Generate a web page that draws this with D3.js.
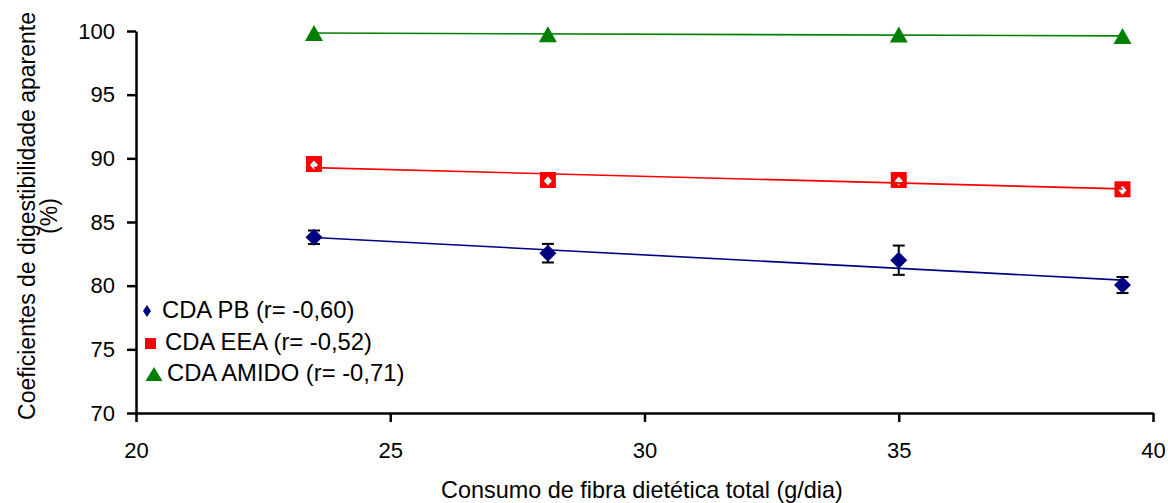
<!DOCTYPE html>
<html>
<head>
<meta charset="utf-8">
<script src="https://cdn.jsdelivr.net/npm/d3@7"></script>
<style>
  body { margin: 0; background: #fff; }
  svg { font-family: "Liberation Sans", Arial, sans-serif; }
</style>
</head>
<body>
<div id="drawing_region"></div>
<script>
// consumo de fibra (g/dia)
var fibra = [23.5, 28.1, 35.0, 39.4];
var cdaPB = [83.8, 82.55, 82.0, 80.05];
var errPB = [0.53, 0.73, 1.15, 0.63];
var cdaEEA = [89.55, 88.3, 88.3, 87.57];
var cdaAmido = [99.85, 99.75, 99.72, 99.6];
var xTicks = [20, 25, 30, 35, 40];
var yTicks = [70, 75, 80, 85, 90, 95, 100];
var legendLabels = ["CDA PB (r= -0,60)", "CDA EEA (r= -0,52)", "CDA AMIDO (r= -0,71)"];

var width = 1168;
var height = 503;
var margin = { top: 31, right: 15, bottom: 90, left: 136 };
var inner_w = 1153 - margin.left;
var inner_h = 413 - margin.top;

var svg = d3.select("#drawing_region")
    .append("svg")
    .attr("width", width)
    .attr("height", height);

var g = svg.append("g")
    .attr("transform", "translate(" + margin.left + "," + margin.top + ")");

var xScale = d3.scaleLinear().domain([20, 40]).range([0, inner_w]);
var yScale = d3.scaleLinear().domain([70, 100]).range([inner_h, 0]);

// linha de tendência (mínimos quadrados, como no Excel)
function trend(ys) {
    var mx = d3.mean(fibra), my = d3.mean(ys);
    var sxy = d3.sum(fibra, (x, i) => (x - mx) * (ys[i] - my));
    var sxx = d3.sum(fibra, x => (x - mx) * (x - mx));
    var b = sxy / sxx;
    var x0 = fibra[0], x1 = fibra[fibra.length - 1];
    return [[x0, my + b * (x0 - mx)], [x1, my + b * (x1 - mx)]];
}

var line = d3.line().x(d => xScale(d[0])).y(d => yScale(d[1]));

// eixos
var xAxis = g.append("g")
    .attr("transform", "translate(0," + inner_h + ")")
    .call(d3.axisBottom(xScale).tickValues(xTicks).tickSize(9).tickSizeOuter(0).tickPadding(20));
var yAxis = g.append("g")
    .call(d3.axisLeft(yScale).tickValues(yTicks).tickSize(9).tickSizeOuter(0).tickPadding(12));

[xAxis, yAxis].forEach(a => {
    a.select(".domain").attr("stroke", "#000").attr("stroke-width", 2.5);
    a.selectAll(".tick line").attr("stroke", "#000").attr("stroke-width", 2.5);
    a.selectAll(".tick text").attr("font-size", 22).attr("fill", "#000")
        .attr("font-family", "'Liberation Sans', Arial, sans-serif");
});

// barras de erro (PB)
var eb = g.append("g").attr("stroke", "#000").attr("stroke-width", 2);
fibra.forEach((x, i) => {
    var cx = xScale(x), y0 = yScale(cdaPB[i] - errPB[i]), y1 = yScale(cdaPB[i] + errPB[i]);
    eb.append("line").attr("x1", cx).attr("x2", cx).attr("y1", y0).attr("y2", y1);
    eb.append("line").attr("x1", cx - 6).attr("x2", cx + 6).attr("y1", y0).attr("y2", y0);
    eb.append("line").attr("x1", cx - 6).attr("x2", cx + 6).attr("y1", y1).attr("y2", y1);
});

function diamond(w, h) {
    return "M0," + (-h / 2) + "L" + (w / 2) + ",0L0," + (h / 2) + "L" + (-w / 2) + ",0Z";
}
function triangle(w, h) {
    return "M0," + (-h / 2) + "L" + (w / 2) + "," + (h / 2) + "L" + (-w / 2) + "," + (h / 2) + "Z";
}

// marcadores
g.append("g").selectAll("path")
    .data(fibra.map((x, i) => [x, cdaPB[i]]))
    .enter().append("path")
    .attr("d", diamond(17, 17))
    .attr("transform", d => "translate(" + xScale(d[0]) + "," + yScale(d[1]) + ")")
    .attr("fill", "#000080");

g.append("g").selectAll("rect")
    .data(fibra.map((x, i) => [x, cdaEEA[i]]))
    .enter().append("rect")
    .attr("x", d => xScale(d[0]) - 8)
    .attr("y", d => yScale(d[1]) - 8)
    .attr("width", 16).attr("height", 16)
    .attr("fill", "#ff0000");

g.append("g").selectAll("path")
    .data(fibra.map((x, i) => [x, cdaEEA[i]]))
    .enter().append("path")
    .attr("d", diamond(8, 9))
    .attr("transform", d => "translate(" + xScale(d[0]) + "," + (yScale(d[1]) + 1) + ")")
    .attr("fill", "#d4ffff");

g.append("g").selectAll("path")
    .data(fibra.map((x, i) => [x, cdaAmido[i]]))
    .enter().append("path")
    .attr("d", triangle(18, 16))
    .attr("transform", d => "translate(" + xScale(d[0]) + "," + yScale(d[1]) + ")")
    .attr("fill", "#008000");

// linhas de tendência
[[cdaPB, "#000080"], [cdaEEA, "#ff0000"], [cdaAmido, "#008000"]].forEach(s => {
    g.append("path")
        .attr("d", line(trend(s[0])))
        .attr("fill", "none")
        .attr("stroke", s[1])
        .attr("stroke-width", 1.6);
});

// títulos
svg.append("text")
    .attr("x", 642).attr("y", 498)
    .attr("text-anchor", "middle")
    .attr("font-size", 23.4)
    .text("Consumo de fibra dietética total (g/dia)");

var yt = svg.append("text")
    .attr("transform", "translate(35,216) rotate(-90)")
    .attr("text-anchor", "middle")
    .attr("font-size", 23);
yt.append("tspan").attr("x", 0).attr("y", 0).text("Coeficientes de digestibilidade aparente");
yt.append("tspan").attr("x", 0).attr("y", 22).text("(%)");

// legenda
var leg = svg.append("g");
leg.append("path").attr("d", diamond(8, 12)).attr("transform", "translate(147,311)").attr("fill", "#000080");
leg.append("rect").attr("x", 145).attr("y", 338).attr("width", 11).attr("height", 11).attr("fill", "#ff0000");
leg.append("path").attr("d", triangle(17, 14)).attr("transform", "translate(154,374)").attr("fill", "#008000");
var legX = [162, 165, 167];
var legY = [318, 350, 381];
leg.selectAll("text")
    .data(legendLabels)
    .enter().append("text")
    .attr("x", (d, i) => legX[i])
    .attr("y", (d, i) => legY[i])
    .attr("font-size", 23.8)
    .text(d => d);
</script>
</body>
</html>
